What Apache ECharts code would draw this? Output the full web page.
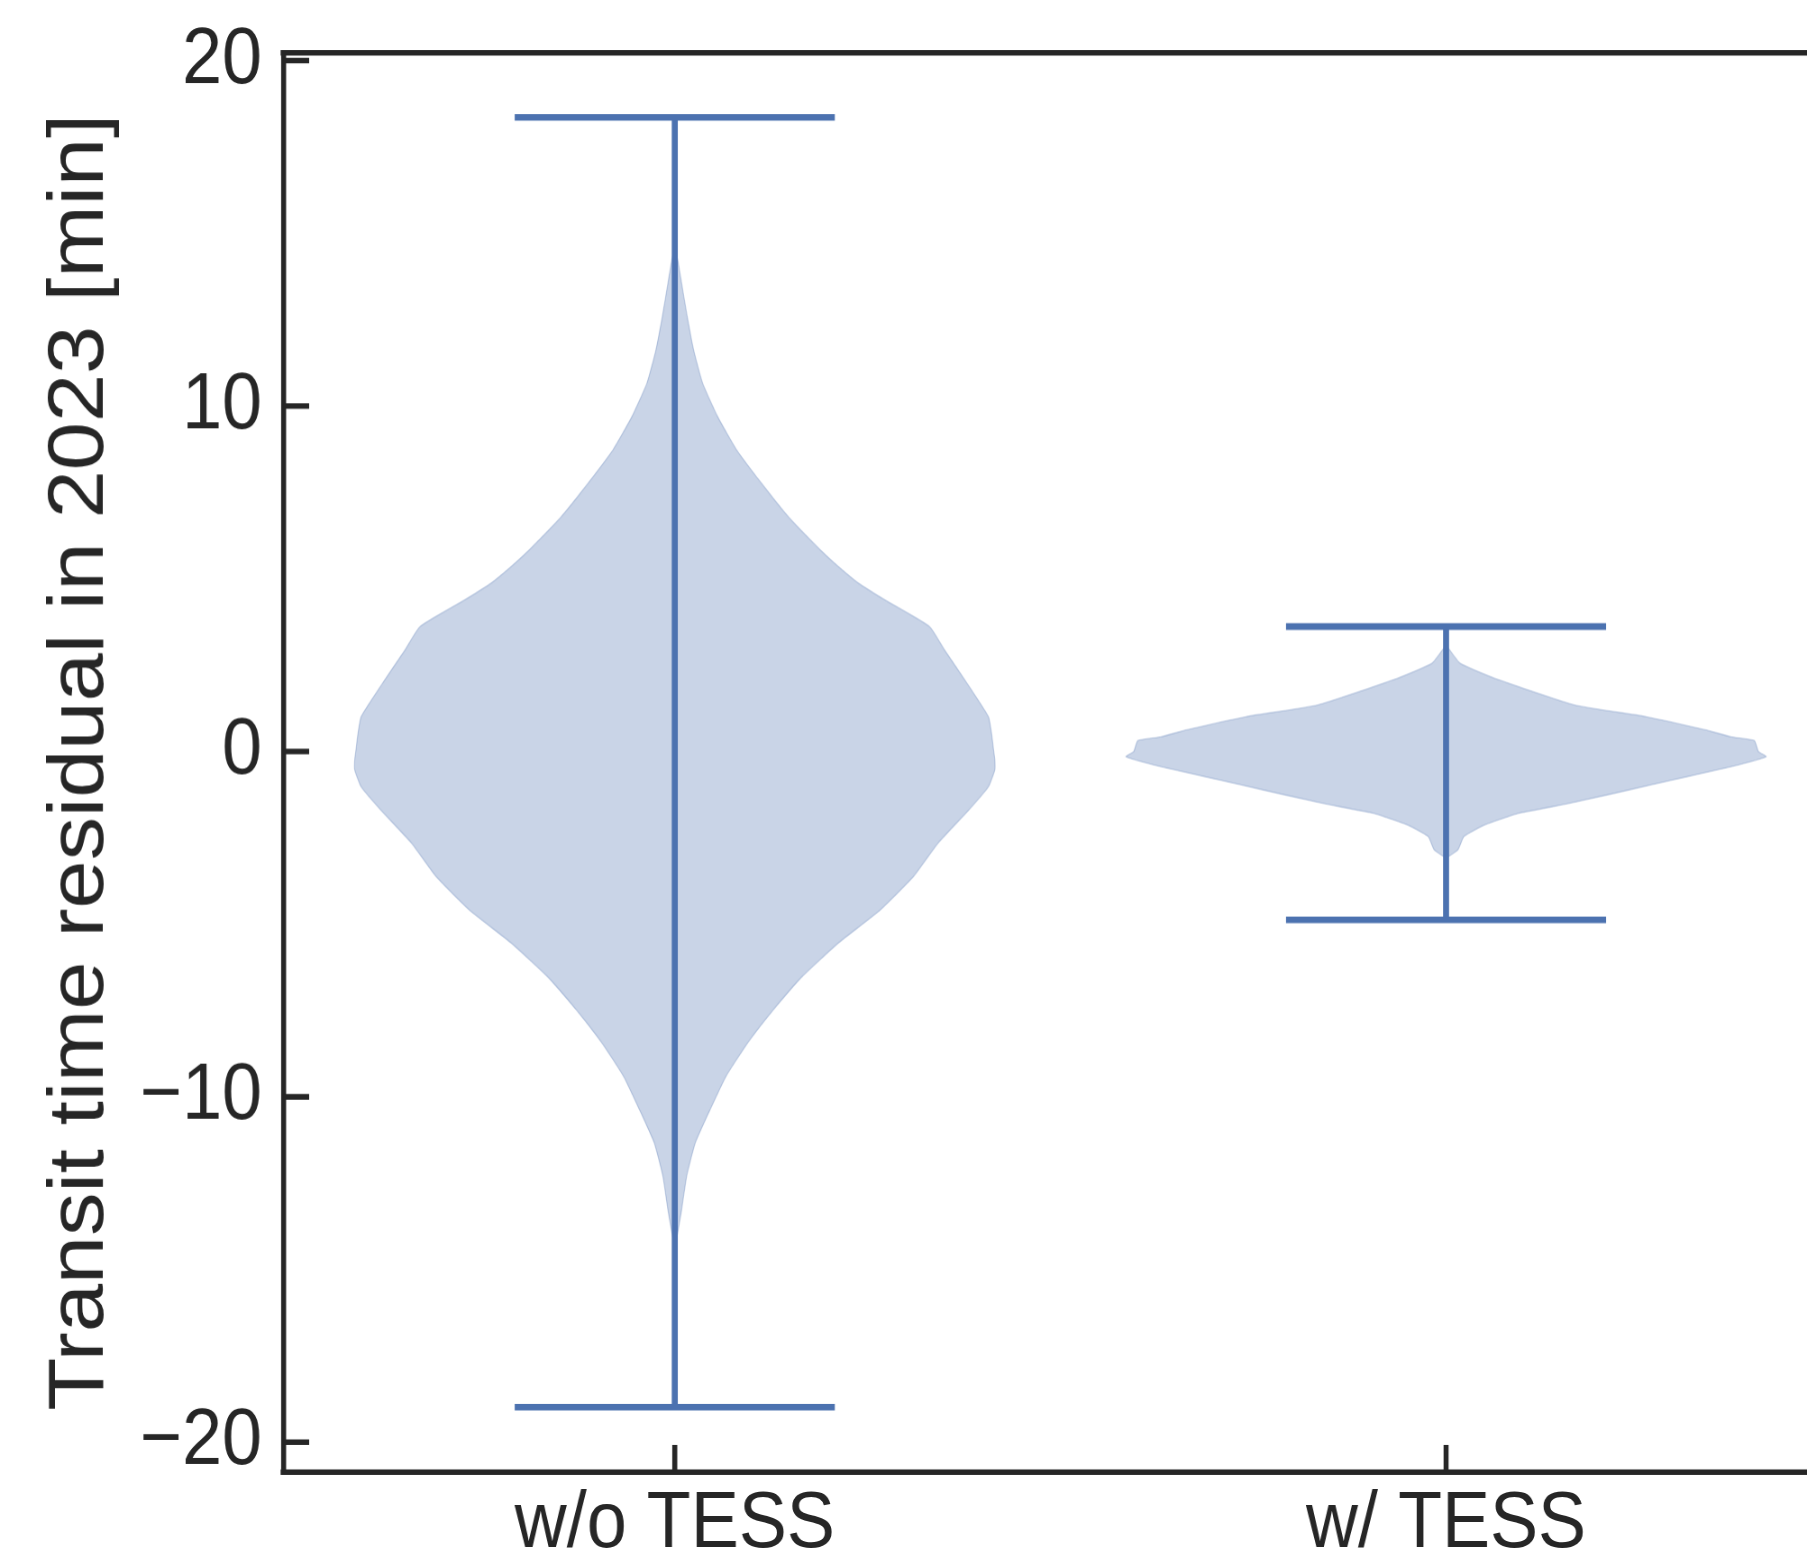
<!DOCTYPE html>
<html>
<head>
<meta charset="utf-8">
<script src="https://cdn.jsdelivr.net/npm/echarts@6/dist/echarts.min.js"></script>
<style>
html,body{margin:0;padding:0;background:#ffffff;}
#wrap{width:1807px;height:1564px;overflow:hidden;position:relative;}
/* the reference figure is stretched vertically by ~1.11 */
#chart{width:1807px;height:1409px;transform:scaleY(1.11);transform-origin:0 0;}
</style>
</head>
<body>
<div id="wrap"><div id="chart"></div></div>
<script>
// ---------------- data ----------------
const categories = ['w/o TESS', 'w/ TESS'];
const positions = [1, 2];
const yTicks = [-20, -10, 0, 10, 20];
const seriesMin = [-19.0, -4.885];
const seriesMax = [18.36, 3.61];

// violin profiles: residual value [min] and relative density (peak = 1)
const woTessY = [14.6, 14.2, 13.55, 12.59, 11.62, 10.66, 9.69, 8.73, 7.76, 6.79, 5.83, 5.35, 4.86, 4.38, 3.61, 2.93, 1.97, 1.0, 0.5, 0.04, -0.25, -0.54, -1.03, -1.70, -2.67, -3.63, -4.60, -5.56, -6.53, -7.49, -8.46, -9.42, -10.39, -11.35, -12.32, -13.28, -13.96, -14.35];
const woTessDensity = [0, 0.01, 0.0215, 0.039, 0.059, 0.087, 0.134, 0.193, 0.271, 0.355, 0.455, 0.511, 0.575, 0.657, 0.796, 0.843, 0.913, 0.980, 0.99, 0.996, 1.0, 1.0, 0.980, 0.919, 0.822, 0.746, 0.642, 0.511, 0.398, 0.308, 0.227, 0.160, 0.110, 0.064, 0.037, 0.0215, 0.009, 0];

const wTessY = [3.08, 2.55, 2.07, 1.34, 1.00, 0.62, 0.42, 0.31, 0.18, -0.01, -0.16, -0.45, -0.93, -1.51, -1.80, -2.13, -2.47, -2.86, -3.10];
const wTessDensity = [0, 0.044, 0.164, 0.401, 0.625, 0.81, 0.89, 0.963, 0.969, 0.976, 1.0, 0.89, 0.663, 0.386, 0.227, 0.122, 0.056, 0.037, 0];

// ---------------- styles ----------------
const profilesY = [woTessY, wTessY];
const profilesD = [woTessDensity, wTessDensity];
const violinWidth = 0.83;
const blue = '#4c72b0';
const ink = '#262626';
const font = "'Liberation Sans', Arial, Helvetica, sans-serif";

const chart = echarts.init(document.getElementById('chart'), null, {renderer: 'canvas', devicePixelRatio: 1.11});

const itemData = categories.map((c, i) => [positions[i], seriesMin[i], seriesMax[i], i]);

function renderViolin(params, api) {
  const i = api.value(3);
  const pos = api.value(0);
  const ys = profilesY[i], ds = profilesD[i];
  const half = violinWidth / 2;
  const pts = [];
  for (let k = 0; k < ys.length; k++) pts.push(api.coord([pos + ds[k] * half, ys[k]]));
  for (let k = ys.length - 1; k >= 0; k--) pts.push(api.coord([pos - ds[k] * half, ys[k]]));
  return {
    type: 'polygon',
    shape: {points: pts, smooth: 0.15},
    style: {fill: 'rgba(76,114,176,0.3)', stroke: 'rgba(76,114,176,0.3)', lineWidth: 1}
  };
}

function renderLines(params, api) {
  const pos = api.value(0), lo = api.value(1), hi = api.value(2);
  const capHalf = violinWidth / 4;
  const style = {stroke: blue, lineWidth: 6, lineCap: 'butt'};
  const a = api.coord([pos, lo]), b = api.coord([pos, hi]);
  const c1 = api.coord([pos - capHalf, hi]), c2 = api.coord([pos + capHalf, hi]);
  const d1 = api.coord([pos - capHalf, lo]), d2 = api.coord([pos + capHalf, lo]);
  return {
    type: 'group',
    children: [
      {type: 'line', shape: {x1: a[0], y1: a[1], x2: b[0], y2: b[1]}, style: style},
      {type: 'line', shape: {x1: c1[0], y1: c1[1], x2: c2[0], y2: c2[1]}, style: style},
      {type: 'line', shape: {x1: d1[0], y1: d1[1], x2: d2[0], y2: d2[1]}, style: style}
    ]
  };
}

const spine = {show: true, onZero: false, lineStyle: {color: ink, width: 5, cap: 'square'}};

const option = {
  backgroundColor: '#ffffff',
  animation: false,
  grid: {left: 283, right: 0, top: 47.7, bottom: 83.2, containLabel: false},
  xAxis: [
    {
      type: 'value', min: 0.4922, max: 2.4689, position: 'bottom',
      axisLine: spine,
      splitLine: {show: false},
      axisTick: {show: true, inside: true, length: 24, customValues: positions, lineStyle: {color: ink, width: 5}},
      axisLabel: {
        customValues: positions,
        formatter: v => categories[positions.indexOf(v)] || '',
        fontSize: 72, color: ink, fontFamily: font, margin: 12
      }
    },
    {
      type: 'value', min: 0.4922, max: 2.4689, position: 'top',
      axisLine: spine,
      splitLine: {show: false}, axisTick: {show: false}, axisLabel: {show: false}
    }
  ],
  yAxis: {
    type: 'value', min: -20.87, max: 20.223,
    axisLine: spine,
    splitLine: {show: false},
    axisTick: {show: true, inside: true, length: 26, customValues: yTicks, lineStyle: {color: ink, width: 5}},
    axisLabel: {
      customValues: yTicks,
      formatter: v => String(v).replace('-', '\u2212'),
      fontSize: 72, color: ink, fontFamily: font, margin: 21, padding: [11, 0, 0, 0]
    },
    name: 'Transit time residual in 2023 [min]',
    nameLocation: 'middle', nameRotate: 90, nameGap: 163,
    nameTextStyle: {fontSize: 78, color: ink, fontFamily: font}
  },
  series: [
    {type: 'custom', renderItem: renderViolin, data: itemData, encode: {x: 0, y: [1, 2]}, clip: false, z: 2},
    {type: 'custom', renderItem: renderLines, data: itemData, encode: {x: 0, y: [1, 2]}, clip: false, z: 3}
  ]
};
chart.setOption(option);
</script>
</body>
</html>
